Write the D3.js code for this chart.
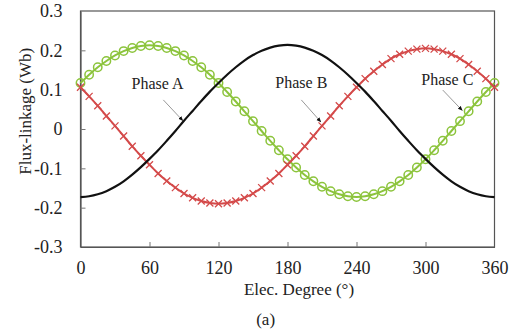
<!DOCTYPE html>
<html>
<head>
<meta charset="utf-8">
<script src="https://cdn.jsdelivr.net/npm/d3@7"></script>
<style>
  body { margin: 0; background: #fff; }
</style>
</head>
<body>
<div id="chart"></div>
<script>
const SERIF = "'Liberation Serif', 'Times New Roman', Times, 'DejaVu Serif', serif";

// electrical degree, sampled every 7.5 deg
const degrees = d3.range(0, 360.1, 7.5);

// flux-linkage (Wb)
const phaseA = [-0.173, -0.171, -0.166, -0.158, -0.147, -0.133, -0.116, -0.097, -0.076, -0.054, -0.030, -0.005,
  0.021, 0.046, 0.071, 0.095, 0.117, 0.138, 0.157, 0.174, 0.188, 0.199, 0.207, 0.212, 0.214,
  0.212, 0.207, 0.199, 0.188, 0.174, 0.157, 0.138, 0.117, 0.095, 0.071, 0.046, 0.021,
  -0.005, -0.030, -0.054, -0.076, -0.097, -0.116, -0.133, -0.147, -0.158, -0.166, -0.171, -0.173];
const phaseB = [0.106, 0.083, 0.059, 0.033, 0.008, -0.018, -0.044, -0.068, -0.091, -0.113, -0.132, -0.149,
  -0.164, -0.175, -0.183, -0.188, -0.190, -0.188, -0.183, -0.175, -0.164, -0.149, -0.132, -0.113, -0.091,
  -0.068, -0.044, -0.018, 0.008, 0.033, 0.059, 0.083, 0.106, 0.128, 0.147, 0.164, 0.179,
  0.190, 0.198, 0.203, 0.205, 0.203, 0.198, 0.190, 0.179, 0.164, 0.147, 0.128, 0.106];
const phaseC = [0.117, 0.138, 0.157, 0.173, 0.187, 0.198, 0.206, 0.211, 0.213, 0.211, 0.206, 0.198,
  0.187, 0.173, 0.157, 0.138, 0.117, 0.094, 0.070, 0.045, 0.020, -0.005, -0.030, -0.054, -0.077,
  -0.098, -0.117, -0.133, -0.147, -0.158, -0.166, -0.171, -0.173, -0.171, -0.166, -0.158, -0.147,
  -0.133, -0.117, -0.098, -0.077, -0.054, -0.030, -0.005, 0.020, 0.045, 0.070, 0.094, 0.117];

const xTicks = [0, 60, 120, 180, 240, 300, 360];
const yTicks = [-0.3, -0.2, -0.1, 0, 0.1, 0.2, 0.3];
const yTickLabels = ["-0.3", "-0.2", "-0.1", "0", "0.1", "0.2", "0.3"];

// annotations: label position and arrow [from, to] in data units
const labels = [
  {text: "Phase A", deg: 67, val: 0.102, from: [72, 0.074], to: [89, 0.021]},
  {text: "Phase B", deg: 192, val: 0.104, from: [192, 0.074], to: [209, 0.018]},
  {text: "Phase C", deg: 319, val: 0.112, from: [315, 0.099], to: [332, 0.047]}
];

const W = 522, H = 330;
const margin = {top: 11, right: 27.5, bottom: 83, left: 80.5};
const width = W - margin.left - margin.right;
const height = H - margin.top - margin.bottom;

const svg = d3.select("#chart").append("svg")
  .attr("width", W).attr("height", H)
  .style("font-family", SERIF);

const defs = svg.append("defs");
defs.append("marker")
  .attr("id", "arrow")
  .attr("viewBox", "0 0 10 10")
  .attr("refX", 9).attr("refY", 5)
  .attr("markerWidth", 5).attr("markerHeight", 5)
  .attr("orient", "auto")
  .append("path").attr("d", "M0,1 L10,5 L0,9 z").attr("fill", "#111");

const g = svg.append("g")
  .attr("transform", "translate(" + margin.left + "," + margin.top + ")");

const x = d3.scaleLinear().domain([0, 360]).range([0, width]);
const y = d3.scaleLinear().domain([-0.3, 0.3]).range([height, 0]);

// frame
g.append("rect")
  .attr("width", width).attr("height", height)
  .attr("fill", "none").attr("stroke", "#555").attr("stroke-width", 1.2);

// axes with inward ticks
const xAxis = g.append("g")
  .attr("transform", "translate(0," + height + ")")
  .call(d3.axisBottom(x).tickValues(xTicks).tickSizeInner(-5).tickSizeOuter(0).tickPadding(14));
const yAxis = g.append("g")
  .call(d3.axisLeft(y).tickValues(yTicks).tickSizeInner(-5).tickSizeOuter(0).tickPadding(18)
    .tickFormat((d, i) => yTickLabels[i]));

[xAxis, yAxis].forEach(a => {
  a.attr("font-family", null).attr("font-size", null);
  a.select(".domain").attr("stroke", "#555").attr("stroke-width", 1.2);
  a.selectAll(".tick line").attr("stroke", "#777");
  a.selectAll(".tick text").style("font-family", SERIF).style("font-size", "18px").attr("fill", "#222");
});
// hide the inward ticks at the frame corners
xAxis.selectAll(".tick line").filter(d => d === 0 || d === 360).remove();
yAxis.selectAll(".tick line").filter(d => d === -0.3 || d === 0.3).remove();

const line = (vals) => d3.line()
  .x((d, i) => x(degrees[i]))
  .y(d => y(d))
  .curve(d3.curveCatmullRom)(vals);

// Phase C (green circles)
g.append("path").attr("d", line(phaseC))
  .attr("fill", "none").attr("stroke", "#8cc43c").attr("stroke-width", 2);
g.append("g").selectAll("circle").data(phaseC).join("circle")
  .attr("cx", (d, i) => x(degrees[i])).attr("cy", d => y(d))
  .attr("r", 4.2).attr("fill", "none")
  .attr("stroke", "#8cc43c").attr("stroke-width", 1.5);

// Phase B (red crosses)
g.append("path").attr("d", line(phaseB))
  .attr("fill", "none").attr("stroke", "#d44a4a").attr("stroke-width", 2);
g.append("g").selectAll("path").data(phaseB).join("path")
  .attr("transform", (d, i) => "translate(" + x(degrees[i]) + "," + y(d) + ")")
  .attr("d", "M-3.5,-3.5L3.5,3.5M-3.5,3.5L3.5,-3.5")
  .attr("stroke", "#d44a4a").attr("stroke-width", 1.3);

// Phase A (black line)
g.append("path").attr("d", line(phaseA))
  .attr("fill", "none").attr("stroke", "#111").attr("stroke-width", 2.2);

// labels and arrows
labels.forEach(l => {
  g.append("text")
    .attr("x", x(l.deg)).attr("y", y(l.val))
    .attr("text-anchor", "middle")
    .style("font-size", "16px").attr("fill", "#222")
    .text(l.text);
  g.append("line")
    .attr("x1", x(l.from[0])).attr("y1", y(l.from[1]))
    .attr("x2", x(l.to[0])).attr("y2", y(l.to[1]))
    .attr("stroke", "#999").attr("stroke-width", 1)
    .attr("marker-end", "url(#arrow)");
});

// axis titles
g.append("text")
  .attr("x", x(190)).attr("y", height + 48)
  .attr("text-anchor", "middle").style("font-size", "17px").attr("fill", "#222")
  .text("Elec. Degree (°)");
g.append("text")
  .attr("x", x(161)).attr("y", height + 78)
  .attr("text-anchor", "middle").style("font-size", "17px").attr("fill", "#222")
  .text("(a)");
svg.append("text")
  .attr("transform", "translate(31," + (margin.top + y(0.045)) + ") rotate(-90)")
  .attr("text-anchor", "middle").style("font-size", "17px").attr("fill", "#222")
  .text("Flux-linkage (Wb)");
</script>
</body>
</html>
